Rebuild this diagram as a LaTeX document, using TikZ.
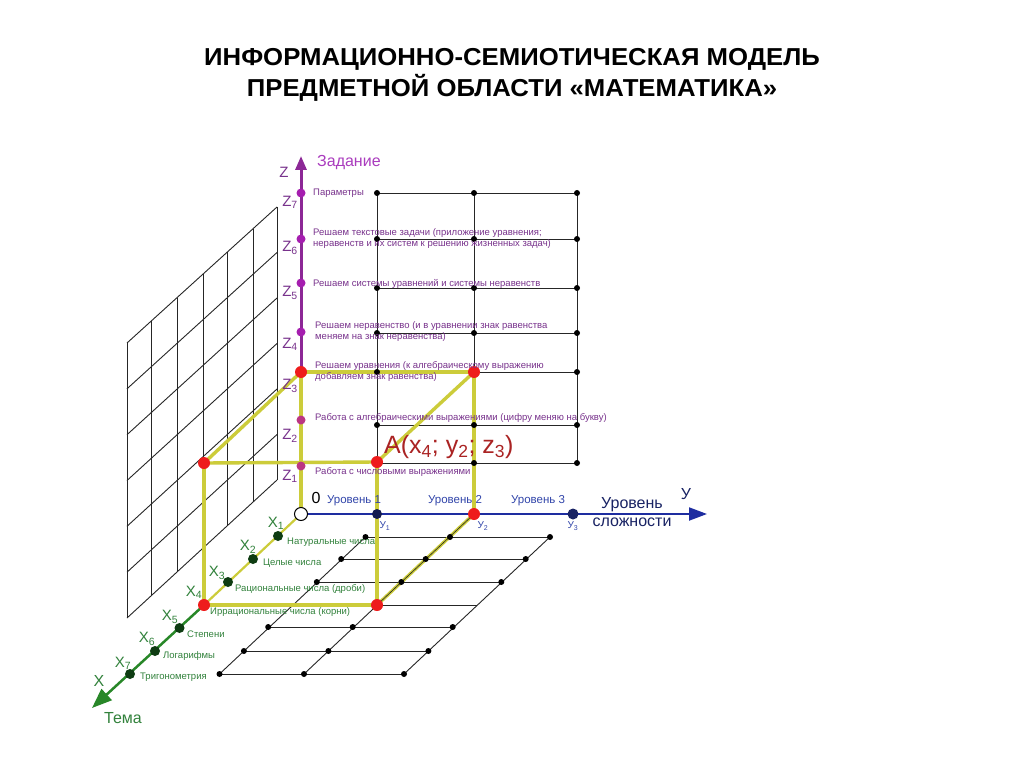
\documentclass[tikz,border=0pt]{standalone}
\usepackage{fontspec}
\setmainfont{Liberation Sans}
\newfontfamily\titlefont[FakeStretch=1.05]{Liberation Sans}
\usetikzlibrary{arrows.meta}
\definecolor{ylw}{RGB}{204,204,58}
\definecolor{zpur}{RGB}{140,40,150}
\definecolor{zdotc}{RGB}{165,30,175}
\definecolor{ztxtc}{RGB}{120,50,140}
\definecolor{zhead}{RGB}{170,60,190}
\definecolor{reddot}{RGB}{238,28,28}
\definecolor{xgreen}{RGB}{40,135,40}
\definecolor{xtxtc}{RGB}{50,130,60}
\definecolor{xdotc}{RGB}{14,60,18}
\definecolor{yblue}{RGB}{30,45,160}
\definecolor{ytxtc}{RGB}{50,70,170}
\definecolor{ynavy}{RGB}{25,35,100}
\definecolor{alabel}{RGB}{170,35,35}
\tikzset{
  gridline/.style={black!85, line width=0.9pt},
  yel/.style={ylw, line width=3.4pt},
  yelthin/.style={ylw, line width=2.2pt},
  bdot/.style={circle, fill=black, inner sep=0pt, minimum size=6pt},
  rdot/.style={circle, fill=reddot, inner sep=0pt, minimum size=12pt},
  zdot/.style={circle, fill=zdotc, inner sep=0pt, minimum size=9pt},
  zdotb/.style={circle, fill=zdotc!75!orange, inner sep=0pt, minimum size=9pt},
  gdot/.style={circle, fill=xdotc, inner sep=0pt, minimum size=10pt},
  ztxt/.style={font=\fontsize{9.5}{11}\selectfont, text=ztxtc, anchor=west, inner sep=0pt, align=left},
  xtxt/.style={font=\fontsize{9.5}{11}\selectfont, text=xtxtc, anchor=west, inner sep=0pt},
  zlab/.style={font=\fontsize{15}{15}\selectfont, text=ztxtc, inner sep=0pt},
  xlab/.style={font=\fontsize{15}{15}\selectfont, text=xtxtc, inner sep=0pt},
  ylev/.style={font=\fontsize{11.5}{12}\selectfont, text=ytxtc, inner sep=0pt},
  ysub/.style={font=\fontsize{10}{10}\selectfont, text=ytxtc, inner sep=0pt},
  titletxt/.style={font=\titlefont\fontsize{24.5}{30}\selectfont\bfseries, inner sep=0pt, anchor=base},
}
\begin{document}
\begin{tikzpicture}[x=1pt,y=-1pt]
\useasboundingbox (0,0) rectangle (1024,767);
\fill[white] (0,0) rectangle (1024,767);

% title
\node[titletxt] (title1) at (512,65.7) {ИНФОРМАЦИОННО-СЕМИОТИЧЕСКАЯ МОДЕЛЬ};
\node[titletxt] (title2) at (512,96.7) {ПРЕДМЕТНОЙ ОБЛАСТИ «МАТЕМАТИКА»};

% key points
\coordinate (O) at (301,514);
\coordinate (ztip) at (301,156);
\coordinate (ytip) at (707,514);
\coordinate (xtip) at (92,708);
\coordinate (z1) at (301,466);
\coordinate (z2) at (301,420);
\coordinate (z3) at (301,372);
\coordinate (z4) at (301,332);
\coordinate (z5) at (301,283);
\coordinate (z6) at (301,239);
\coordinate (z7) at (301,193);
\coordinate (x1) at (278,536);
\coordinate (x2) at (253,559);
\coordinate (x3) at (228,582);
\coordinate (x4) at (204,605);
\coordinate (x5) at (179.5,628);
\coordinate (x6) at (155,651);
\coordinate (x7) at (130,674);
\coordinate (y1) at (377,514);
\coordinate (y2) at (474,514);
\coordinate (y3) at (573,514);
\coordinate (P) at (474,372);
\coordinate (A) at (377,462);
\coordinate (Q) at (204,463);
\coordinate (R) at (377,605);

% left wall grid
\foreach \xx/\tt/\bb in {127/343/618, 151/321.2/595.9, 177/297.7/572, 203/274.1/548.1, 227/252.3/526, 253/228.8/502.1, 277/207/480}
  \draw[gridline] (\xx,\tt) -- (\xx,\bb);
\foreach \ll/\rr in {343/207, 388.8/252.5, 434.7/298, 480.5/343.5, 526.3/389, 572.2/434.5, 618/480}
  \draw[gridline] (127,\ll) -- (277,\rr);

% back wall grid coordinates
\foreach \c/\xx in {1/377,2/474,3/577}
  \foreach \r/\yy in {7/193,6/239,5/288,4/333,3/372,2/425,1/463}
    \coordinate (b\c-\r) at (\xx,\yy);
\draw[gridline] (b1-7) -- (A);
\draw[gridline] (b2-7) -- (P);
\draw[gridline] (b3-7) -- (b3-1);
\foreach \r in {7,6,5,4,2,1}
  \draw[gridline] (b1-\r) -- (b3-\r);
\draw[gridline] (P) -- (b3-3);

% floor grid coordinates
\foreach \i/\yy/\la/\lb/\lc in {1/537/365.5/450/550, 2/559/341.2/425.7/525.7, 3/582/316.8/401.3/501.3, 4/605/292.5/377/477, 5/627/268.2/352.7/452.7, 6/651/243.9/328.4/428.4, 7/674/219.5/304/404}{
  \coordinate (fa\i) at (\la,\yy);
  \coordinate (fb\i) at (\lb,\yy);
  \coordinate (fc\i) at (\lc,\yy);
}
\draw[gridline] (fa1) -- (fa7);
\draw[gridline] (y2) -- (fb7);
\draw[gridline] (fc1) -- (fc7);
\foreach \i in {1,2,3,5,6,7}
  \draw[gridline] (fa\i) -- (fc\i);
\draw[gridline] (x4) -- (fc4);

% yellow frame
\draw[yel] (O) -- (z3);
\draw[yel] (z3) -- (P);
\draw[yel] (P) -- (y2);
\draw[yel] (P) -- (A);
\draw[yel] (z3) -- (Q);
\draw[yel] (Q) -- (A);
\draw[yel] (Q) -- (x4);
\draw[yel] (x4) -- (R);
\draw[yel] (A) -- (R);
\draw[yel] (y2) -- (R);
\draw[gridline, line width=0.6pt] (y2) -- (R);

% axes
\draw[zpur, line width=3pt, -{Triangle[length=14pt,width=11pt]}] (z3) -- (ztip);
\draw[yblue, line width=2pt, -{Triangle[length=18pt,width=13pt]}] (O) -- (ytip);
\draw[yelthin] (O) -- (x4);
\draw[xgreen, line width=2.5pt, -{Triangle[length=20pt,width=15pt]}] (x4) -- (xtip);

% back wall dots
\foreach \c in {1,2,3}
  \foreach \r in {7,6,5,4,2}
    \node[bdot] (d\c-\r) at (b\c-\r) {};
\node[bdot] (d1-3) at (b1-3) {};
\node[bdot] (d3-3) at (b3-3) {};
\node[bdot] (d2-1) at (b2-1) {};
\node[bdot] (d3-1) at (b3-1) {};

% floor dots
\foreach \i in {1,2,3,5,6,7}{
  \node[bdot] (ea\i) at (fa\i) {};
  \node[bdot] (eb\i) at (fb\i) {};
  \node[bdot] (ec\i) at (fc\i) {};
}

% axis dots
\node[zdotb] (Z1) at (z1) {};
\node[zdotb] (Z2) at (z2) {};
\node[zdot] (Z4) at (z4) {};
\node[zdot] (Z5) at (z5) {};
\node[zdot] (Z6) at (z6) {};
\node[zdot] (Z7) at (z7) {};
\node[gdot] (X1) at (x1) {};
\node[gdot] (X2) at (x2) {};
\node[gdot] (X3) at (x3) {};
\node[gdot] (X5) at (x5) {};
\node[gdot] (X6) at (x6) {};
\node[gdot] (X7) at (x7) {};
\node[circle, fill=ynavy!80!black, inner sep=0pt, minimum size=10pt] (Y1) at (y1) {};
\node[circle, fill=ynavy, inner sep=0pt, minimum size=11pt] (Y3) at (y3) {};
\node[rdot] (Z3) at (z3) {};
\node[rdot] (PP) at (P) {};
\node[rdot] (AA) at (A) {};
\node[rdot] (QQ) at (Q) {};
\node[rdot] (X4) at (x4) {};
\node[rdot] (RR) at (R) {};
\node[rdot] (Y2) at (y2) {};
\node[circle, draw=black, fill=white, line width=1pt, inner sep=0pt, minimum size=13pt] (OO) at (O) {};

% Z texts
\node[zlab] (zname) at (284,172) {Z};
\node[font=\fontsize{16}{16}\selectfont, text=zhead, anchor=west, inner sep=0pt] (zhd) at (317,163) {Задание};
\node[zlab] (lz7) at (290,202) {Z\textsubscript{7}};
\node[zlab] (lz6) at (290,248) {Z\textsubscript{6}};
\node[zlab] (lz5) at (290,293) {Z\textsubscript{5}};
\node[zlab] (lz4) at (290,344) {Z\textsubscript{4}};
\node[zlab] (lz3) at (290,386) {Z\textsubscript{3}};
\node[zlab] (lz2) at (290,436) {Z\textsubscript{2}};
\node[zlab] (lz1) at (290,476) {Z\textsubscript{1}};
\node[ztxt] (t7) at (313,193) {Параметры};
\node[ztxt] (t6) at (313,239) {Решаем текстовые задачи (приложение уравнения;\\неравенств и их систем к решению жизненных задач)};
\node[ztxt] (t5) at (313,284) {Решаем системы уравнений и системы неравенств};
\node[ztxt] (t4) at (315,332) {Решаем неравенство (и в уравнении знак равенства\\меняем на знак неравенства)};
\node[ztxt] (t3) at (315,371.5) {Решаем уравнения (к алгебраическому выражению\\добавляем знак равенства)};
\node[ztxt] (t2) at (315,418) {Работа с алгебраическими выражениями (цифру меняю на букву)};
\node[ztxt] (t1) at (315,472) {Работа с числовыми выражениями};

% A label
\node[font=\fontsize{25}{25}\selectfont, text=alabel, anchor=west, inner sep=0pt] (Alab) at (384,447)
  {A(x\textsubscript{4}; y\textsubscript{2}; z\textsubscript{3})};

% Y texts
\node[font=\fontsize{16}{16}\selectfont, inner sep=0pt] (zero) at (316,498) {0};
\node[ylev] (lv1) at (354,501) {Уровень 1};
\node[ylev] (lv2) at (455,501) {Уровень 2};
\node[ylev] (lv3) at (538,501) {Уровень 3};
\node[ysub] (ly1) at (385,526) {У\textsubscript{1}};
\node[ysub] (ly2) at (483,526) {У\textsubscript{2}};
\node[ysub] (ly3) at (573,526) {У\textsubscript{3}};
\node[font=\fontsize{16}{18}\selectfont, text=ynavy, align=center, inner sep=0pt] (ydesc) at (632,512) {Уровень\\сложности};
\node[font=\fontsize{16}{16}\selectfont, text=ynavy, inner sep=0pt] (yname) at (686,494) {У};

% X texts
\node[xlab] (lx1) at (276,523) {X\textsubscript{1}};
\node[xlab] (lx2) at (248,547) {X\textsubscript{2}};
\node[xlab] (lx3) at (217,573) {X\textsubscript{3}};
\node[xlab] (lx4) at (194,592) {X\textsubscript{4}};
\node[xlab] (lx5) at (170,617) {X\textsubscript{5}};
\node[xlab] (lx6) at (147,639) {X\textsubscript{6}};
\node[xlab] (lx7) at (123,663) {X\textsubscript{7}};
\node[xlab, font=\fontsize{16}{16}\selectfont] (xname) at (99,681) {X};
\node[xlab, font=\fontsize{16}{16}\selectfont] (tema) at (123,718) {Тема};
\node[xtxt] (s1) at (287,542) {Натуральные числа};
\node[xtxt] (s2) at (263,563) {Целые числа};
\node[xtxt] (s3) at (235,589) {Рациональные числа (дроби)};
\node[xtxt] (s4) at (210,612) {Иррациональные числа (корни)};
\node[xtxt] (s5) at (187,634) {Степени};
\node[xtxt] (s6) at (163,656) {Логарифмы};
\node[xtxt] (s7) at (140,677) {Тригонометрия};
\end{tikzpicture}
\end{document}
